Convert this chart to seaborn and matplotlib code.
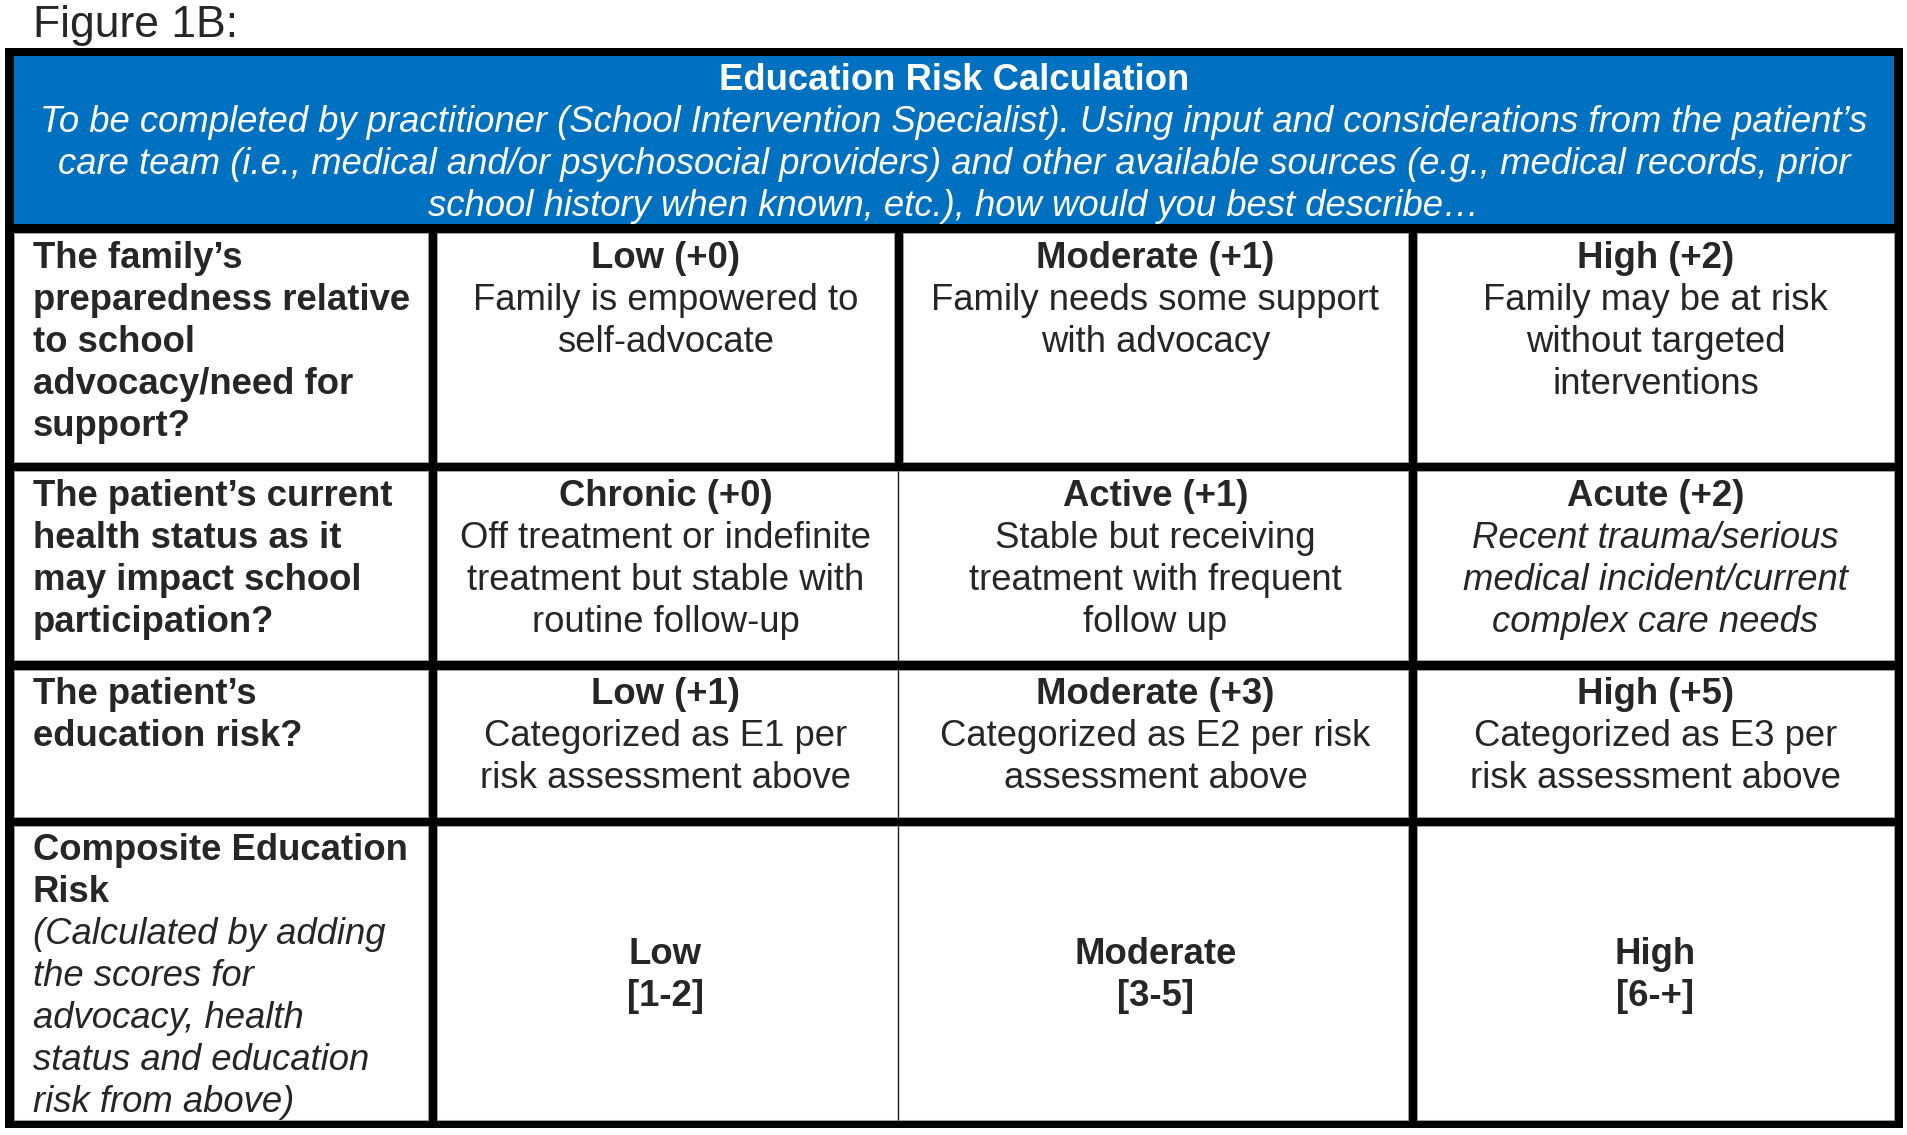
import matplotlib.pyplot as plt
import seaborn as sns
from matplotlib.patches import Rectangle

# Table content
FIGURE_LABEL = "Figure 1B:"
HEADER_TITLE = "Education Risk Calculation"
HEADER_NOTE = [
    "To be completed by practitioner (School Intervention Specialist). Using input and considerations from the patient\u2019s",
    "care team (i.e., medical and/or psychosocial providers) and other available sources (e.g., medical records, prior",
    "school history when known, etc.), how would you best describe\u2026",
]
QUESTIONS = [
    ["The family\u2019s", "preparedness relative", "to school", "advocacy/need for", "support?"],
    ["The patient\u2019s current", "health status as it", "may impact school", "participation?"],
    ["The patient\u2019s", "education risk?"],
]
LEVEL_TITLES = [
    ["Low (+0)", "Moderate (+1)", "High (+2)"],
    ["Chronic (+0)", "Active (+1)", "Acute (+2)"],
    ["Low (+1)", "Moderate (+3)", "High (+5)"],
]
LEVEL_DESCRIPTIONS = [
    [["Family is empowered to", "self-advocate"],
     ["Family needs some support", "with advocacy"],
     ["Family may be at risk", "without targeted", "interventions"]],
    [["Off treatment or indefinite", "treatment but stable with", "routine follow-up"],
     ["Stable but receiving", "treatment with frequent", "follow up"],
     ["Recent trauma/serious", "medical incident/current", "complex care needs"]],
    [["Categorized as E1 per", "risk assessment above"],
     ["Categorized as E2 per risk", "assessment above"],
     ["Categorized as E3 per", "risk assessment above"]],
]
ITALIC_DESCRIPTIONS = [
    [False, False, False],
    [False, False, True],
    [False, False, False],
]
COMPOSITE_LABEL = ["Composite Education", "Risk"]
COMPOSITE_NOTE = ["(Calculated by adding", "the scores for", "advocacy, health",
                  "status and education", "risk from above)"]
COMPOSITE_LEVELS = ["Low", "Moderate", "High"]
COMPOSITE_RANGES = ["[1-2]", "[3-5]", "[6-+]"]

# Layout (pixels)
W, H = 1908, 1135
BLUE = "#0070C0"
EDGE = "#9e9e9e"
FS = 26.3
LINE = 42
ASC = 34.5
COLS = [(14, 428), (437, 894), (903, 1408), (1417, 1894)]
ROWS = [(233, 462), (471, 660), (670, 817), (826, 1120)]
TEXT_X = 33

sns.set_theme(style="white")
plt.rcParams["font.family"] = ["Liberation Sans", "DejaVu Sans"]

fig = plt.figure(figsize=(W / 100, H / 100), dpi=100)
ax = fig.add_axes([0, 0, 1, 1])
ax.set_xlim(0, W)
ax.set_ylim(H, 0)
ax.axis("off")

ax.text(TEXT_X, 37, FIGURE_LABEL, fontsize=32, va="baseline", ha="left")

# black frame, blue header
ax.add_patch(Rectangle((5, 48), 1898, 1080, facecolor="black", edgecolor="none"))
ax.add_patch(Rectangle((14, 56), 1880, 168, facecolor=BLUE, edgecolor="none"))


def cell(x0, x1, y0, y1):
    ax.add_patch(Rectangle((x0, y0), x1 - x0, y1 - y0, facecolor="white",
                           edgecolor=EDGE, linewidth=0.75))


for r, (y0, y1) in enumerate(ROWS):
    cell(*COLS[0], y0, y1)
    cell(*COLS[3], y0, y1)
    if r == 0:
        cell(*COLS[1], y0, y1)
        cell(*COLS[2], y0, y1)
    else:
        cell(COLS[1][0], COLS[2][1], y0, y1)
        ax.plot([898.5, 898.5], [y0, y1], color="#1a1a1a", lw=1.0,
                solid_capstyle="butt")


def lines(x, y, texts, ha="center", **kw):
    for i, t in enumerate(texts):
        ax.text(x, y + i * LINE, t, fontsize=FS, ha=ha, va="baseline", **kw)


# header text
cx = (14 + 1894) / 2
lines(cx, 56 + 33.5, [HEADER_TITLE], color="white", fontweight="bold")
lines(cx, 56 + 33.5 + LINE, HEADER_NOTE, color="white", style="italic")

centers = [(x0 + x1) / 2 for x0, x1 in COLS[1:]]

for r in range(3):
    top = ROWS[r][0] + ASC
    lines(TEXT_X, top, QUESTIONS[r], ha="left", fontweight="bold")
    for c in range(3):
        lines(centers[c], top, [LEVEL_TITLES[r][c]], fontweight="bold")
        style = "italic" if ITALIC_DESCRIPTIONS[r][c] else "normal"
        lines(centers[c], top + LINE, LEVEL_DESCRIPTIONS[r][c], style=style)

# composite row
top = ROWS[3][0] + ASC
lines(TEXT_X, top, COMPOSITE_LABEL, ha="left", fontweight="bold")
lines(TEXT_X, top + 2 * LINE, COMPOSITE_NOTE, ha="left", style="italic")
mid = 963.5
for c in range(3):
    lines(centers[c], mid, [COMPOSITE_LEVELS[c], COMPOSITE_RANGES[c]],
          fontweight="bold")

fig.savefig("out.png", dpi=100)
